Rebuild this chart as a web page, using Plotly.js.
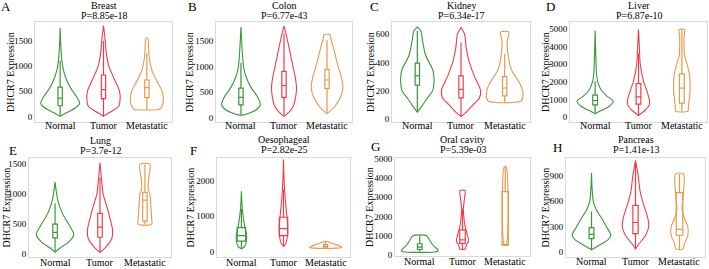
<!DOCTYPE html>
<html>
<head>
<meta charset="utf-8">
<script src="https://cdn.plot.ly/plotly-3.0.1.min.js"></script>
<style>html,body{margin:0;padding:0;background:#fff;}#chart{width:709px;height:269px;}</style>
</head>
<body>
<div id="chart"></div>
<script>
// ---------------- DATA ----------------
const categories = ['Normal', 'Tumor', 'Metastatic'];
const tissues = ['Breast', 'Colon', 'Kidney', 'Liver', 'Lung', 'Oesophageal', 'Oral cavity', 'Pancreas'];
const pLabels = ['P=8.85e-18', 'P=6.77e-43', 'P=6.34e-17', 'P=6.87e-10', 'P=3.7e-12', 'P=2.82e-25', 'P=5.39e-03', 'P=1.41e-13'];
const panelLetters = ['A', 'B', 'C', 'D', 'E', 'F', 'G', 'H'];
const yTickVals = [
  [0, 500, 1000, 1500], [0, 500, 1000, 1500], [0, 200, 400, 600], [0, 1000, 2000, 3000, 4000, 5000],
  [0, 500, 1000, 1500], [0, 1000, 2000], [0, 1000, 2000, 3000, 4000, 5000], [0, 300, 600, 900]
];

// Violin outlines: expression levels (Y) and density half-widths (W), per group [Normal, Tumor, Metastatic]
// Box stats: [q1, median, q3, lower whisker, upper whisker]
const breastY = [[0, 60, 125, 200, 260, 390, 550, 720, 900, 1100, 1400, 1750],
                 [0, 50, 100, 200, 300, 500, 700, 1000, 1300, 1500, 1800],
                 [130, 135, 200, 350, 500, 700, 900, 1200, 1400, 1550]];
const breastW = [[0, .12, .27, .40, .45, .38, .25, .15, .08, .04, .015, 0],
                 [0, .09, .19, .35, .38, .37, .27, .12, .06, .04, 0],
                 [.23, .28, .35, .38, .35, .23, .12, .05, .04, .02]];
const breastBox = [[210, 360, 580, 0, 1100], [350, 530, 820, 0, 1500], [370, 570, 720, 130, 1250]];

const colonY = [[50, 100, 150, 250, 400, 600, 800, 1000, 1300, 1780],
                [30, 50, 200, 400, 600, 800, 1000, 1200, 1600, 1800],
                [80, 200, 400, 600, 800, 1000, 1200, 1400, 1550, 1630]];
const colonW = [[.04, .23, .35, .45, .39, .23, .12, .06, .03, 0],
                [0, .04, .2, .27, .29, .26, .21, .16, .06, 0],
                [0, .16, .31, .37, .33, .26, .2, .14, .09, .07]];
const colonBox = [[250, 400, 580, 50, 1080], [400, 630, 910, 30, 1650], [570, 740, 950, 80, 1520]];

const kidneyY = [[50, 100, 150, 200, 250, 300, 350, 450, 550, 620, 650],
                 [20, 50, 100, 150, 200, 300, 400, 500, 600, 645],
                 [120, 130, 180, 250, 350, 450, 550, 590, 615]];
const kidneyW = [[0, .12, .23, .35, .38, .38, .35, .19, .12, .08, 0],
                 [0, .12, .27, .42, .45, .31, .19, .12, .08, 0],
                 [.23, .38, .42, .35, .15, .08, .06, .09, .09]];
const kidneyBox = [[240, 305, 395, 50, 620], [150, 210, 305, 20, 540], [165, 220, 300, 120, 460]];

const liverY = [[200, 400, 600, 900, 1200, 1500, 2000, 2500, 3500, 4900],
                [100, 400, 700, 1000, 1500, 2000, 3000, 4000, 4950],
                [350, 600, 1000, 1500, 2000, 2500, 3000, 3500, 4000, 4500, 4950]];
const liverW = [[0, .15, .31, .42, .27, .15, .06, .03, .015, 0],
                [0, .15, .25, .25, .19, .12, .04, .02, 0],
                [.14, .15, .17, .19, .19, .17, .12, .06, .05, .05, .06]];
const liverBox = [[700, 950, 1250, 200, 2050], [750, 1150, 1900, 100, 3600], [800, 1650, 2450, 350, 4950]];

const lungY = [[30, 100, 200, 300, 350, 500, 700, 900, 1200],
               [30, 100, 250, 400, 600, 800, 1000, 1200, 1530],
               [500, 600, 800, 1000, 1100, 1300, 1500]];
const lungW = [[0, .11, .3, .41, .41, .3, .15, .06, 0],
               [0, .11, .26, .28, .22, .15, .07, .04, 0],
               [.15, .15, .13, .11, .07, .09, .11]];
const lungBox = [[270, 360, 500, 30, 850], [280, 450, 680, 30, 1270], [550, 900, 1030, 500, 1500]];

const oesophagealY = [[80, 150, 300, 500, 700, 1000, 1300, 1700],
                      [150, 200, 400, 700, 1000, 1500, 2000, 2600],
                      [100, 120, 150, 200, 250, 300]];
const oesophagealW = [[0, .08, .12, .12, .08, .04, .015, 0],
                      [0, .04, .09, .1, .08, .04, .015, 0],
                      [.28, .39, .35, .24, .12, 0]];
const oesophagealBox = [[300, 450, 680, 80, 1200], [450, 650, 970, 150, 1750], [110, 150, 200, 100, 280]];

const oralY = [[150, 200, 300, 450, 600, 800, 1000],
               [300, 500, 700, 1000, 1500, 2000, 2400, 3000, 3350],
               [500, 4600]];
const oralW = [[.35, .43, .41, .33, .28, .22, .16],
               [.06, .09, .14, .12, .06, .03, .02, .05, .06],
               [.02, .02]];
const oralBox = [[280, 400, 580, 170, 1000], [600, 780, 1300, 300, 2400], [500, 510, 3300, 500, 4600]];

const pancreasY = [[30, 100, 150, 200, 300, 400, 500, 600, 930],
                   [40, 100, 200, 300, 400, 550, 700, 900, 1080],
                   [40, 100, 200, 300, 400, 500, 700, 920]];
const pancreasW = [[0, .23, .38, .44, .34, .23, .11, .04, 0],
                   [0, .08, .23, .3, .28, .19, .11, .06, 0],
                   [.08, .11, .19, .19, .11, .06, .09, .09]];
const pancreasBox = [[160, 210, 290, 30, 480], [220, 350, 550, 40, 1050], [200, 270, 700, 40, 920]];

// ---------------- STYLE / LAYOUT ----------------
const panelYs = [breastY, colonY, kidneyY, liverY, lungY, oesophagealY, oralY, pancreasY];
const panelWs = [breastW, colonW, kidneyW, liverW, lungW, oesophagealW, oralW, pancreasW];
const panelBoxes = [breastBox, colonBox, kidneyBox, liverBox, lungBox, oesophagealBox, oralBox, pancreasBox];

const colors = ['#3a963a', '#ef3e4b', '#e6994b'];
const W = 709, H = 269;
// plot-area pixel boxes [x0, x1, yTop, yBottom]
const boxesPx = [
  [35, 172, 22, 122], [216, 352, 22, 122], [392, 530, 22, 122], [570, 707, 22, 122],
  [29, 171, 158, 257], [217, 350, 158, 257], [395, 530, 158, 256], [566, 705, 158, 257]
];
const yRanges = [[-112, 1870], [-85, 1880], [-19, 684], [-263, 5376], [-50, 1604], [-150, 2640], [-60, 5050], [-55, 1107]];
const yTitleX = [10, 189, 370, 545, 6, 190, 369, 545];
const letterPos = [[6, 7], [192, 7], [375, 7], [550, 7], [13, 150], [193, 150], [376, 146], [557, 147]];
const titleY = [[6, 16], [6, 16], [6, 16], [6, 16], [140, 150], [139, 149], [139, 149], [139, 149]];
const xLabelY = [126, 126, 126, 126, 262, 262, 261, 261];
const boxWidths = [
  [.1, .1, .1], [.1, .1, .1], [.1, .1, .1], [.11, .11, .11],
  [.1, .1, .1], [.2, .2, .1], [.11, .13, .15], [.11, .12, .15]
];

const serif = '"Liberation Serif", "Times New Roman", Times, serif';
const traces = [];
const layout = {
  width: W, height: H,
  margin: {l: 0, r: 0, t: 0, b: 0},
  paper_bgcolor: '#fff', plot_bgcolor: '#fff',
  showlegend: false, boxmode: 'overlay',
  font: {family: serif, color: '#000'},
  annotations: []
};

for (let p = 0; p < 8; p++) {
  const sfx = p === 0 ? '' : String(p + 1);
  const xa = 'x' + sfx, ya = 'y' + sfx;
  const [x0, x1, yt, yb] = boxesPx[p];
  layout['xaxis' + sfx] = {
    domain: [x0 / W, x1 / W], anchor: ya, range: [-0.58, 2.58],
    tickvals: [0, 1, 2], showticklabels: false, ticks: '',
    showgrid: false, zeroline: false, showline: true, mirror: true,
    linecolor: '#d9d9d9', linewidth: 1, fixedrange: true
  };
  layout['yaxis' + sfx] = {
    domain: [1 - yb / H, 1 - yt / H], anchor: xa, range: yRanges[p],
    tickvals: yTickVals[p], ticks: '', ticklen: 0,
    showgrid: false, zeroline: false, showline: true, mirror: true,
    linecolor: '#d9d9d9', linewidth: 1,
    tickfont: {family: serif, size: 9, color: '#000'}, fixedrange: true
  };
  for (let g = 0; g < 3; g++) {
    const ys = panelYs[p][g], ws = panelWs[p][g];
    const xs = [], yy = [];
    for (let i = 0; i < ys.length; i++) { xs.push(g + ws[i]); yy.push(ys[i]); }
    for (let i = ys.length - 1; i >= 0; i--) { xs.push(g - ws[i]); yy.push(ys[i]); }
    xs.push(xs[0]); yy.push(yy[0]);
    traces.push({
      type: 'scatter', mode: 'lines', x: xs, y: yy, xaxis: xa, yaxis: ya,
      line: {color: colors[g], width: 1.1, shape: 'spline', smoothing: 0.8},
      hoverinfo: 'skip'
    });
    const b = panelBoxes[p][g];
    traces.push({
      type: 'box', x: [g], q1: [b[0]], median: [b[1]], q3: [b[2]],
      lowerfence: [b[3]], upperfence: [b[4]], width: boxWidths[p][g],
      xaxis: xa, yaxis: ya, boxpoints: false, whiskerwidth: 0,
      fillcolor: '#ffffff', line: {color: colors[g], width: 1.2}, hoverinfo: 'skip'
    });
    // category label under each group (x position through the axis scale)
    layout.annotations.push({
      text: categories[g], x: g, xref: xa, y: 1 - xLabelY[p] / H, yref: 'paper',
      showarrow: false, xanchor: 'center', yanchor: 'middle',
      font: {family: serif, size: 10, color: '#000'}
    });
  }
  const cx = (x0 + x1) / 2 / W;
  layout.annotations.push(
    {text: tissues[p], x: cx, y: 1 - titleY[p][0] / H, xref: 'paper', yref: 'paper',
     showarrow: false, xanchor: 'center', yanchor: 'middle', font: {family: serif, size: 10, color: '#000'}},
    {text: pLabels[p], x: cx, y: 1 - titleY[p][1] / H, xref: 'paper', yref: 'paper',
     showarrow: false, xanchor: 'center', yanchor: 'middle', font: {family: serif, size: 10, color: '#000'}},
    {text: 'DHCR7 Expression', textangle: -90, x: yTitleX[p] / W, y: 1 - (yt + yb) / 2 / H,
     xref: 'paper', yref: 'paper', showarrow: false, xanchor: 'center', yanchor: 'middle',
     font: {family: serif, size: 10, color: '#000'}},
    {text: panelLetters[p], x: letterPos[p][0] / W, y: 1 - letterPos[p][1] / H,
     xref: 'paper', yref: 'paper', showarrow: false, xanchor: 'center', yanchor: 'middle',
     font: {family: serif, size: 13, color: '#000'}}
  );
}

Plotly.newPlot('chart', traces, layout, {staticPlot: true, displayModeBar: false});
</script>
</body>
</html>
